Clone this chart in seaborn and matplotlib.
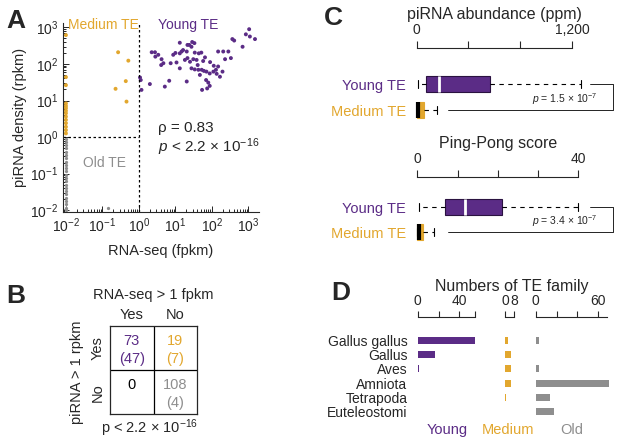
import matplotlib
matplotlib.use('Agg')
import matplotlib.pyplot as plt
import numpy as np
import pandas as pd
import seaborn as sns
from matplotlib.ticker import LogLocator, LogFormatterSciNotation, NullFormatter

sns.set_style('ticks')
plt.rcParams['font.family'] = ['Liberation Sans', 'DejaVu Sans']
plt.rcParams['mathtext.fontset'] = 'custom'
plt.rcParams['mathtext.rm'] = 'Liberation Sans'
plt.rcParams['mathtext.it'] = 'Liberation Sans:italic'
plt.rcParams['axes.linewidth'] = 0.8

young_col = '#5b2c86'
medium_col = '#e2a72e'
old_col = '#8e8e8e'

# ==== Panel A data (log10 values) ==== #
young_log_rna = [0.03, 0.07, 0.05, 0.30, 0.35, 0.44, 0.53, 0.62, 0.67, 0.61,
                 0.71, 0.83, 0.87, 1.03, 1.12, 1.17, 1.21, 1.12, 1.31, 1.38,
                 1.44, 1.52, 1.33, 1.26, 1.33, 1.40, 1.49, 1.58, 1.61, 1.71,
                 1.76, 1.81, 1.44, 1.53, 1.63, 1.72, 1.78, 1.85, 1.94, 2.04,
                 2.11, 2.17, 2.29, 2.22, 2.13, 2.17, 2.31, 2.45, 2.36, 2.52,
                 2.56, 2.61, 2.84, 2.93, 3.02, 3.04, 3.18, 1.84, 1.90, 1.94,
                 1.87, 1.73, 1.31, 0.94, 1.64, 1.53, 1.67, 1.12, 1.00, 1.46,
                 1.95, 2.05, 0.45]
young_log_pirna = [1.63, 1.29, 1.56, 1.45, 2.32, 2.32, 2.25, 2.13, 2.02, 1.97,
                   1.38, 1.54, 2.02, 2.04, 2.58, 2.34, 2.38, 2.29, 2.34, 2.52,
                   2.47, 2.57, 2.52, 2.11, 2.16, 2.06, 2.13, 2.11, 1.97, 2.31,
                   2.08, 2.18, 1.88, 1.85, 1.84, 1.84, 1.81, 1.79, 1.74, 1.79,
                   1.84, 1.93, 1.79, 1.65, 1.73, 2.34, 2.34, 2.34, 2.13, 2.16,
                   2.68, 2.64, 2.47, 2.81, 2.95, 2.75, 2.68, 1.56, 1.49, 1.40,
                   1.33, 1.29, 1.52, 2.25, 2.29, 2.31, 1.70, 1.88, 2.30, 2.60,
                   2.05, 1.95, 2.20]
medium_log_rna = [-0.57, -0.29, -0.36, -0.64, -0.34,
                  -2.0, -2.0, -2.0, -2.0, -2.0, -2.0, -2.0,
                  -2.0, -2.0, -2.0, -2.0, -2.0, -2.0, -2.0]
medium_log_pirna = [2.32, 2.09, 1.53, 1.32, 0.97,
                    2.79, 1.64, 1.42, 0.92, 0.85, 0.79, 0.72,
                    0.65, 0.56, 0.47, 0.38, 0.28, 0.19, 0.10]
old_log_rna = [-2.0, -2.0, -2.0, -2.0, -2.0, -2.0, -2.0, -2.0, -2.0, -2.0,
               -2.0, -2.0, -2.0, -2.0, -2.0, -2.0, -2.0, -2.0, -2.0, -2.0,
               -2.0, -2.0, -2.0, -0.85]
old_log_pirna = [-0.04, -0.13, -0.22, -0.31, -0.40, -0.49, -0.58, -0.67,
                 -0.76, -0.85, -0.94, -1.03, -1.12, -1.21, -1.30, -1.39,
                 -1.48, -1.57, -1.66, -1.75, -1.84, -1.93, -2.00, -1.95]

# ==== Panel B data ==== #
table_counts = [['73', '19'], ['0', '108']]
table_sub = [['(47)', '(7)'], ['', '(4)']]
table_cols = [[young_col, medium_col], ['black', old_col]]

# ==== Panel C data (box statistics) ==== #
abund_young = dict(whislo=13, q1=69, med=170, q3=568, whishi=1272, fliers=[])
abund_medium = dict(whislo=0, q1=0, med=8, q3=60, whishi=160, fliers=[])
pp_young = dict(whislo=0.3, q1=6.9, med=11.9, q3=21, whishi=39.8, fliers=[])
pp_medium = dict(whislo=0, q1=0, med=0.3, q3=1.3, whishi=4.2, fliers=[])

# ==== Panel D data ==== #
clades = ['Gallus gallus', 'Gallus', 'Aves', 'Amniota', 'Tetrapoda', 'Euteleostomi']
young_counts = [55, 17, 1, 0, 0, 0]
medium_counts = [3, 5, 5, 5, 1, 0]
old_counts = [3, 0, 3, 70, 14, 18]

W, H = 617, 443
fig = plt.figure(figsize=(W / 100, H / 100), dpi=100)


def px_axes(l, t, r, b):
    return fig.add_axes([l / W, 1 - b / H, (r - l) / W, (b - t) / H])


def ftext(x, y, s, **kw):
    fig.text(x / W, 1 - y / H, s, **kw)


# ---- Panel A ----
df = pd.DataFrame({
    'rna': 10 ** np.array(young_log_rna + medium_log_rna),
    'pirna': 10 ** np.array(young_log_pirna + medium_log_pirna),
    'group': ['Young'] * len(young_log_rna) + ['Medium'] * len(medium_log_rna),
})
df_old = pd.DataFrame({'rna': 10 ** np.array(old_log_rna),
                       'pirna': 10 ** np.array(old_log_pirna)})
axA = px_axes(63, 23, 259, 212)
sns.scatterplot(data=df_old, x='rna', y='pirna', color=old_col,
                s=5.5, linewidth=0, legend=False, ax=axA, clip_on=False)
sns.scatterplot(data=df, x='rna', y='pirna', hue='group',
                palette={'Young': young_col, 'Medium': medium_col},
                s=8, linewidth=0, legend=False, ax=axA, clip_on=False)
axA.set_xscale('log')
axA.set_yscale('log')
axA.set_xlim(10 ** -2.08, 10 ** 3.29)
axA.set_ylim(10 ** -2.05, 10 ** 3.12)
for a in (axA.xaxis, axA.yaxis):
    a.set_major_locator(LogLocator(base=10, numticks=10))
    a.set_major_formatter(LogFormatterSciNotation())
    a.set_minor_locator(LogLocator(base=10, subs=np.arange(2, 10), numticks=20))
    a.set_minor_formatter(NullFormatter())
axA.tick_params(which='both', direction='in', labelsize=10, width=0.7)
axA.tick_params(which='major', length=4)
axA.tick_params(which='minor', length=2)
axA.spines['top'].set_visible(False)
axA.spines['right'].set_visible(False)
axA.axvline(1, color='black', linestyle=(0, (2, 2)), linewidth=0.9)
axA.plot([10 ** -2.08, 1], [1, 1], color='black', linestyle=(0, (2, 2)), linewidth=0.9)
axA.set_xlabel('RNA-seq (fpkm)', fontsize=10.5, labelpad=6)
axA.set_ylabel('piRNA density (rpkm)', fontsize=10.5, labelpad=2)
ftext(68, 25, 'Medium TE', color=medium_col, fontsize=10, va='center')
ftext(158, 25, 'Young TE', color=young_col, fontsize=10, va='center')
ftext(83, 163, 'Old TE', color=old_col, fontsize=10, va='center')
ftext(158, 128, 'ρ = 0.83', fontsize=11, va='center')
ftext(158, 147, r'$p$ < 2.2 × 10$^{-16}$', fontsize=11, va='center')

# ---- Panel B ----
axB = px_axes(110, 326, 197.3, 414)
axB.set_xlim(0, 2)
axB.set_ylim(2, 0)
axB.set_xticks([])
axB.set_yticks([])
for sp in axB.spines.values():
    sp.set_linewidth(0.9)
axB.axvline(1, color='black', linewidth=0.9)
axB.axhline(1, color='black', linewidth=0.9)
for i in range(2):
    for j in range(2):
        axB.text(j + 0.5, i + 0.35, table_counts[i][j], color=table_cols[i][j],
                 ha='center', va='center', fontsize=10.5)
        axB.text(j + 0.5, i + 0.75, table_sub[i][j], color=table_cols[i][j],
                 ha='center', va='center', fontsize=10.5)
ftext(153, 295, 'RNA-seq > 1 fpkm', fontsize=10.5, ha='center', va='center')
ftext(131.7, 315, 'Yes', fontsize=10.5, ha='center', va='center')
ftext(175, 315, 'No', fontsize=10.5, ha='center', va='center')
ftext(97.5, 348, 'Yes', fontsize=10.5, ha='center', va='center', rotation=90)
ftext(97.5, 393, 'No', fontsize=10.5, ha='center', va='center', rotation=90)
ftext(77, 372, 'piRNA > 1 rpkm', fontsize=10.5, ha='center', va='center', rotation=90)
ftext(150, 428, 'p < 2.2 × 10$^{-16}$', fontsize=10.5, ha='center', va='center')


# ---- Panel C ----
def draw_box(ax, stats, pos, face, edge, med_col, med_lw):
    ax.bxp([stats], positions=[pos], widths=0.64, orientation='horizontal',
           patch_artist=True, showfliers=False, capwidths=0.3,
           boxprops=dict(facecolor=face, edgecolor=edge, linewidth=0.8),
           medianprops=dict(color=med_col, linewidth=med_lw, solid_capstyle='butt'),
           whiskerprops=dict(color='black', linestyle=(0, (4, 4)), linewidth=0.8),
           capprops=dict(color='black', linewidth=0.8))


def style_box_axes(ax, bounds, ticks, labels):
    for s in ['left', 'right', 'bottom']:
        ax.spines[s].set_visible(False)
    ax.spines['top'].set_bounds(*bounds)
    ax.xaxis.tick_top()
    ax.set_xticks(ticks, labels)
    ax.tick_params(axis='x', length=5, width=0.8, labelsize=10, pad=3)
    ax.set_yticks([0, 1], ['Young TE', 'Medium TE'])
    ax.tick_params(axis='y', length=0, labelsize=10.5, pad=4)
    ax.get_yticklabels()[0].set_color(young_col)
    ax.get_yticklabels()[1].set_color(medium_col)


axC1 = px_axes(411.5, 48, 613, 125)
draw_box(axC1, abund_young, 0, young_col, '#2a1240', 'white', 2)
draw_box(axC1, abund_medium, 1, medium_col, medium_col, 'black', 3)
axC1.set_xlim(-40.2, 1516.8)
axC1.set_ylim(1.577, -1.385)
style_box_axes(axC1, (0, 1200), [0, 400, 800, 1200], ['0', '', '', '1,200'])
axC1.plot([1339, 1517, 1517, 244], [0, 0, 1, 1], color='black', linewidth=0.6, clip_on=False)
axC1.text(1401, 0.57, r'$p$ = 1.5 × 10$^{-7}$', fontsize=7.5, ha='right', va='center')
ftext(494.4, 15, 'piRNA abundance (ppm)', fontsize=11.5, ha='center', va='center')

axC2 = px_axes(411.5, 177, 613, 245)
draw_box(axC2, pp_young, 0, young_col, '#2a1240', 'white', 2)
draw_box(axC2, pp_medium, 1, medium_col, medium_col, 'black', 3)
axC2.set_xlim(-1.44, 48.6)
axC2.set_ylim(1.52, -1.2)
style_box_axes(axC2, (0, 40), [0, 10, 20, 30, 40], ['0', '', '', '', '40'])
axC2.plot([42.9, 48.6, 48.6, 7.6], [0, 0, 1, 1], color='black', linewidth=0.6, clip_on=False)
axC2.text(44.9, 0.55, r'$p$ = 3.4 × 10$^{-7}$', fontsize=7.5, ha='right', va='center')
ftext(497.8, 143, 'Ping-Pong score', fontsize=11.5, ha='center', va='center')

# ---- Panel D ----
d_specs = [
    (young_counts, young_col, 417.7, 1.042, 60, 55, [0, 20, 40, 55], ['0', '', '40', '']),
    (medium_counts, medium_col, 505, 1.125, 10, 8, [0, 8], ['0', '8']),
    (old_counts, old_col, 535.7, 1.043, 77.9, 68, [0, 20, 40, 60], ['0', '', '', '60']),
]
for k, (vals, col, left, scale, xmax, bound, ticks, labels) in enumerate(d_specs):
    ax = px_axes(left, 316.7, left + xmax * scale, 420)
    sns.barplot(x=vals, y=clades, orient='h', color=col, width=0.5,
                saturation=1, ax=ax, linewidth=0)
    ax.set_xlim(0, xmax)
    ax.set_ylim(5.58, -1.66)
    for s in ['left', 'right', 'bottom']:
        ax.spines[s].set_visible(False)
    ax.spines['top'].set_bounds(0, bound)
    ax.xaxis.tick_top()
    ax.set_xticks(ticks, labels)
    ax.tick_params(axis='x', length=4, width=0.8, labelsize=10, pad=2)
    ax.set_xlabel('')
    ax.set_ylabel('')
    if k == 0:
        ax.tick_params(axis='y', length=0, labelsize=10, pad=7.5)
    else:
        ax.set_yticks([])
ftext(511.7, 287, 'Numbers of TE family', fontsize=11.5, ha='center', va='center')
ftext(446.7, 430, 'Young', color=young_col, fontsize=10.5, ha='center', va='center')
ftext(508, 430, 'Medium', color=medium_col, fontsize=10.5, ha='center', va='center')
ftext(571.7, 430, 'Old', color=old_col, fontsize=10.5, ha='center', va='center')

# ---- Panel letters ----
for letter, x, y in [('A', 6, 21), ('B', 6, 296), ('C', 324, 18), ('D', 331, 293)]:
    ftext(x, y, letter, fontsize=19, fontweight='bold', va='center')

fig.savefig('out.png', dpi=100)
